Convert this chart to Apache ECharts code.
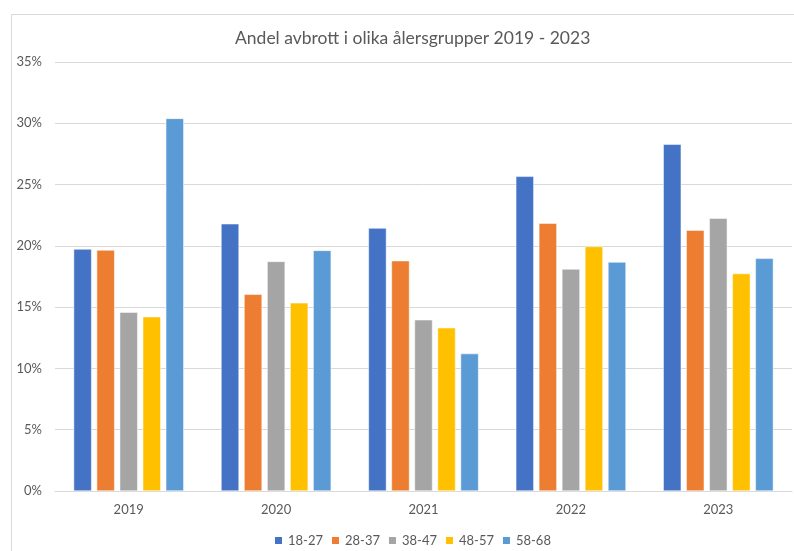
<!DOCTYPE html>
<html>
<head>
<meta charset="utf-8">
<script src="https://cdn.jsdelivr.net/npm/echarts@6/dist/echarts.min.js"></script>
<style>html,body{margin:0;padding:0;background:#fff;}#c{width:794px;height:551px;}</style>
</head>
<body>
<div id="c"></div>
<script>
const categories = ['2019', '2020', '2021', '2022', '2023'];
const seriesNames = ['18-27', '28-37', '38-47', '48-57', '58-68'];
const s1827 = [19.74, 21.8, 21.45, 25.67, 28.29];
const s2837 = [19.66, 16.05, 18.79, 21.85, 21.28];
const s3847 = [14.59, 18.73, 13.97, 18.11, 22.26];
const s4857 = [14.22, 15.35, 13.32, 19.95, 17.74];
const s5868 = [30.4, 19.63, 11.21, 18.68, 18.98];
const colors = ['#4472C4', '#ED7D31', '#A5A5A5', '#FFC000', '#5B9BD5'];
const title = 'Andel avbrott i olika ålersgrupper 2019 - 2023';

const allData = [s1827, s2837, s3847, s4857, s5868];
const font = 'Lato, "Open Sans", sans-serif';
const chart = echarts.init(document.getElementById('c'), null, {renderer: 'canvas'});
chart.setOption({
  animation: false,
  backgroundColor: '#fff',
  graphic: [{
    type: 'rect', left: 9, top: 12, shape: {width: 820, height: 600},
    style: {fill: 'none', stroke: '#d9d9d9', lineWidth: 1}, silent: true, z: -10
  }],
  title: {
    text: title, left: 230, top: 24,
    textStyle: {fontFamily: font, fontSize: 17.5, fontWeight: 'normal', color: '#595959'}
  },
  legend: {
    data: seriesNames, top: 529, left: 268,
    itemWidth: 9, itemHeight: 9, itemGap: 7, icon: 'rect',
    textStyle: {fontFamily: font, fontSize: 13, color: '#595959'}
  },
  grid: {left: 55, right: 2, top: 62, bottom: 60},
  xAxis: {
    type: 'category', data: categories,
    axisLine: {lineStyle: {color: '#d9d9d9'}},
    axisTick: {show: false},
    axisLabel: {fontFamily: font, fontSize: 13, color: '#595959', margin: 12}
  },
  yAxis: {
    type: 'value', min: 0, max: 35, interval: 5,
    axisLabel: {formatter: '{value}%', fontFamily: font, fontSize: 13, color: '#595959', margin: 13},
    axisLine: {show: false}, axisTick: {show: false},
    splitLine: {lineStyle: {color: '#d9d9d9'}}
  },
  series: seriesNames.map((n, i) => ({
    name: n, type: 'bar', data: allData[i], barWidth: 18, barGap: '28%',
    itemStyle: {color: colors[i], borderColor: '#fff', borderWidth: 0.5}
  }))
});
</script>
</body>
</html>
